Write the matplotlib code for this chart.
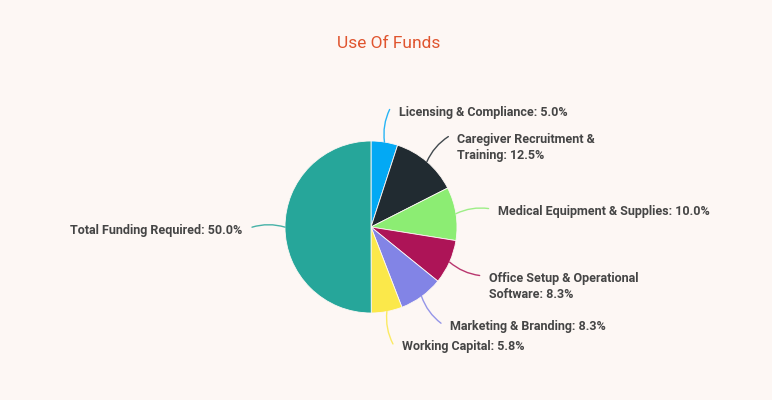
import numpy as np
import matplotlib.pyplot as plt

# Données
labels = ["Licensing & Compliance", "Caregiver Recruitment &\nTraining",
          "Medical Equipment & Supplies", "Office Setup & Operational\nSoftware",
          "Marketing & Branding", "Working Capital", "Total Funding Required"]
values = [5.0, 12.5, 10.0, 8.3, 8.3, 5.8, 50.0]
colors = ["#03a9f4", "#212b31", "#8ced73", "#ad1457", "#8284e6", "#fbe84a", "#26a69a"]

bg = "#fdf7f4"
W, H = 772, 400
cx, cy, r = 371, 400 - 227, 86

fig = plt.figure(figsize=(W / 100, H / 100), dpi=100, facecolor=bg)
ax = fig.add_axes([0, 0, 1, 1])
ax.set_facecolor(bg)

wedges, _ = ax.pie(values, colors=colors, startangle=90, counterclock=False,
                   center=(cx, cy), radius=r, frame=True,
                   wedgeprops=dict(linewidth=0.6, edgecolor=bg))
ax.set_xlim(0, W)
ax.set_ylim(0, H)
ax.axis("off")

for w, lab, val, col in zip(wedges, labels, values, colors):
    ang = np.deg2rad((w.theta1 + w.theta2) / 2)
    x0, y0 = cx + r * np.cos(ang), cy + r * np.sin(ang)
    r2 = r + 33
    x1, y1 = cx + r2 * np.cos(ang), cy + r2 * np.sin(ang)
    # courbure vers l'horizontale en bout de trait
    rad = -0.15 * np.sign(round(np.sin(ang), 3))
    ax.annotate("", xy=(x1, y1), xytext=(x0, y0),
                arrowprops=dict(arrowstyle="-", color=col, lw=1, alpha=0.85,
                                shrinkA=0, shrinkB=0,
                                connectionstyle=f"arc3,rad={rad}"))
    right = np.cos(ang) >= 0
    tx = x1 + 9 if right else x1 - 10
    ax.text(tx, y1 + 3.5, f"{lab}: {val:.1f}%", ha="left" if right else "right",
            va="top", fontsize=9.0, fontfamily="Roboto", fontweight="bold",
            color="#454545", linespacing=1.25)

fig.text(389 / W, 1 - 44 / H, "Use Of Funds", ha="center", va="center",
         fontsize=12.5, fontfamily="Roboto", color="#e0552f")

fig.savefig("out.png", dpi=100, facecolor=bg)
